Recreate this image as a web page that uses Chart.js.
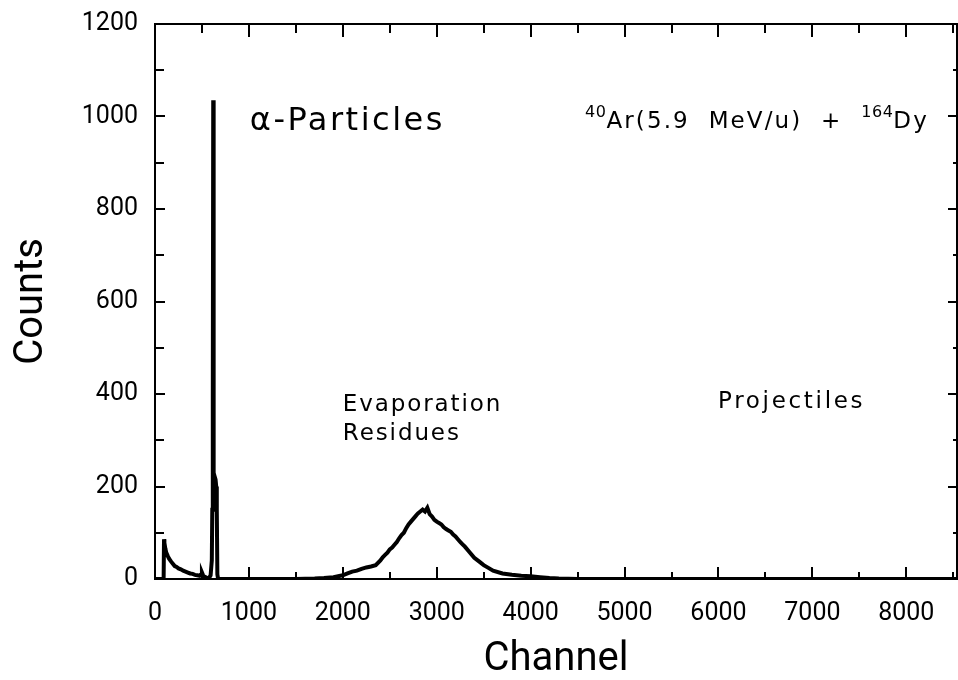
<!DOCTYPE html>
<html>
<head>
<meta charset="utf-8">
<script src="https://cdn.jsdelivr.net/npm/chart.js@4.4.0/dist/chart.umd.min.js"></script>
<style>
  body { margin: 0; background: #fff; }
  canvas { display: block; }
</style>
</head>
<body>
<canvas id="spectrum" width="958" height="680"></canvas>
<script>
// channel / counts
const channels = [
    0, 80, 92, 96, 100, 110, 120, 135, 150, 170, 190, 210, 230, 250, 275, 300,
    325, 350, 375, 400, 425, 450, 475, 490, 500, 510, 525, 550, 575, 592, 605,
    610, 614, 617, 620, 623, 626, 630, 645, 652, 658, 664, 672, 700,
    1000, 1500, 1700, 1800, 1900, 2000, 2050, 2100, 2150, 2200, 2250, 2300, 2350,
    2400, 2425, 2450, 2475, 2500, 2525, 2550, 2575, 2600, 2625, 2650, 2675, 2700,
    2725, 2750, 2775, 2800, 2825, 2850, 2875, 2900, 2925, 2950, 2975,
    3000, 3025, 3050, 3075, 3100, 3125, 3150, 3175, 3200, 3225, 3250, 3275, 3300,
    3350, 3400, 3450, 3500, 3550, 3600,
    3700, 3800, 3900, 4000, 4100, 4200, 4300, 4500, 8540
];
const counts = [
    0, 0, 2, 86, 78, 66, 57, 50, 44, 38, 33, 28, 26, 23, 21, 18,
    16, 14, 12, 11, 9, 8, 7, 10, 14, 9, 5, 3, 2, 8, 40,
    150, 160, 400, 1035, 500, 230, 225, 215, 200, 150, 10, 0, 0,
    0, 0, 1, 2, 4, 8, 12, 16, 18, 22, 25, 27, 30,
    40, 47, 52, 57, 64, 68, 74, 80, 88, 95, 100, 110, 118,
    124, 130, 136, 142, 146, 150, 146, 154, 140, 135, 128,
    124, 121, 118, 112, 108, 105, 102, 96, 92, 86, 80, 75, 70,
    58, 46, 38, 30, 24, 18,
    12, 9, 7, 6, 4, 2, 1, 0, 0
];

const xTicks = [0, 1000, 2000, 3000, 4000, 5000, 6000, 7000, 8000];
const yTicks = [0, 200, 400, 600, 800, 1000, 1200];
const xMax = 8540;
const yMax = 1200;

const notes = [
    { parts: [{ t: 'α-Particles' }], ch: 1010, cnt: 988, size: 32, spacing: 2.5 },
    { parts: [{ t: '40', sup: true }, { t: 'Ar(5.9  MeV/u)  +  ' }, { t: '164', sup: true }, { t: 'Dy' }], ch: 4580, cnt: 988, size: 23, spacing: 2.1 },
    { parts: [{ t: 'Evaporation' }], ch: 2000, cnt: 376, size: 23, spacing: 1.9 },
    { parts: [{ t: 'Residues' }], ch: 2000, cnt: 313, size: 23, spacing: 1.9 },
    { parts: [{ t: 'Projectiles' }], ch: 5995, cnt: 382, size: 23, spacing: 2.7 },
];

const points = channels.map((c, i) => ({ x: c, y: counts[i] }));

// frame + inward tick marks on all four sides
const framePlugin = {
    id: 'frame',
    afterDraw(chart) {
        const { ctx, chartArea: a, scales } = chart;
        const x = scales.x, y = scales.y;
        ctx.save();
        ctx.strokeStyle = '#000';
        ctx.lineWidth = 2;
        ctx.strokeRect(a.left, a.top, a.right - a.left, a.bottom - a.top);
        ctx.beginPath();
        for (let v = 500; v < xMax; v += 500) {
            const px = Math.round(x.getPixelForValue(v));
            const major = v % 1000 === 0;
            ctx.moveTo(px, a.bottom);
            ctx.lineTo(px, a.bottom - (major ? 12 : 7));
            ctx.moveTo(px, a.top);
            ctx.lineTo(px, a.top + (major ? 13 : 9));
        }
        for (let v = 100; v <= yMax; v += 100) {
            const py = Math.round(y.getPixelForValue(v));
            const major = v % 200 === 0;
            ctx.moveTo(a.left, py);
            ctx.lineTo(a.left + (major ? 10 : 9), py);
            ctx.moveTo(a.right, py);
            ctx.lineTo(a.right - (major ? 9 : 4), py);
        }
        ctx.stroke();

        // annotations
        ctx.fillStyle = '#000';
        ctx.textBaseline = 'middle';
        ctx.textAlign = 'left';
        notes.forEach(n => {
            let px = x.getPixelForValue(n.ch);
            const py = y.getPixelForValue(n.cnt);
            n.parts.forEach(p => {
                const size = p.sup ? Math.round(n.size * 0.68) : n.size;
                ctx.font = size + 'px "DejaVu Sans"';
                ctx.letterSpacing = (p.sup ? 0.5 : n.spacing) + 'px';
                ctx.fillText(p.t, px, p.sup ? py - n.size * 0.4 : py);
                px += ctx.measureText(p.t).width;
            });
        });
        ctx.restore();
    }
};

new Chart(document.getElementById('spectrum'), {
    type: 'line',
    data: {
        datasets: [
            {
                data: points,
                borderColor: '#000',
                borderWidth: 4,
                pointRadius: 0,
                tension: 0,
                fill: false,
            },
        ],
    },
    options: {
        responsive: false,
        animation: false,
        layout: {
            padding: { top: 17, right: 1, left: 0, bottom: 0 },
        },
        plugins: {
            legend: { display: false },
            tooltip: { enabled: false },
        },
        scales: {
            x: {
                type: 'linear',
                min: 0,
                max: xMax,
                grid: { display: false },
                border: { display: false },
                ticks: {
                    padding: 12,
                    autoSkip: false,
                    maxRotation: 0,
                    color: '#000',
                    font: { family: 'Roboto', size: 25 },
                    callback: v => String(v),
                },
                afterBuildTicks: scale => {
                    scale.ticks = xTicks.map(v => ({ value: v }));
                },
                afterFit: scale => { scale.height = 101; },
                title: {
                    display: true,
                    text: 'Channel',
                    color: '#000',
                    font: { family: 'Roboto', size: 40, lineHeight: 1.0 },
                    padding: { top: 0, bottom: 0 },
                },
            },
            y: {
                min: 0,
                max: yMax,
                grid: { display: false },
                border: { display: false },
                ticks: {
                    padding: 9,
                    autoSkip: false,
                    color: '#000',
                    font: { family: 'Roboto', size: 25 },
                    callback: v => String(v),
                },
                afterBuildTicks: scale => {
                    scale.ticks = yTicks.map(v => ({ value: v }));
                },
                afterFit: scale => { scale.width = 155; },
                title: {
                    display: true,
                    text: 'Counts',
                    color: '#000',
                    font: { family: 'Roboto', size: 40 },
                    padding: { top: 8, bottom: 0 },
                },
            },
        },
    },
    plugins: [framePlugin],
});
</script>
</body>
</html>
